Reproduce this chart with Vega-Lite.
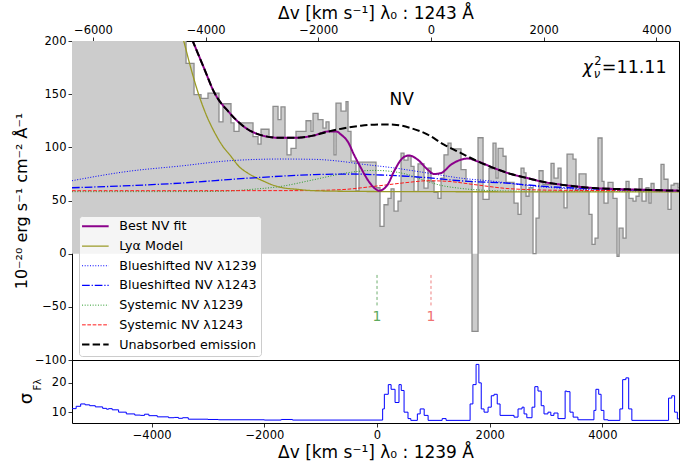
{
  "$schema": "https://vega.github.io/schema/vega-lite/v6.json",
  "padding": {"left": 12, "top": 3, "right": 2, "bottom": 0},
  "background": "white",
  "config": {
    "font": "DejaVu Sans",
    "view": {"stroke": "black", "strokeWidth": 1},
    "axis": {
      "grid": false, "domain": false, "tickColor": "black", "tickSize": 4, "tickWidth": 0.8,
      "labelColor": "black", "labelFontSize": 11.5, "labelPadding": 2, "labelFlush": false, "labelOverlap": false,
      "titleColor": "black", "titleFontWeight": "normal", "titleFontSize": 16,
      "labelFont": "DejaVu Sans", "titleFont": "DejaVu Sans"
    }
  },
  "datasets": {
    "flux": [
      {"v": -5414, "y": 400}, {"v": -3390, "y": 179}, {"v": -3248, "y": 149.5}, {"v": -3124, "y": 146},
      {"v": -3000, "y": 151}, {"v": -2805, "y": 124}, {"v": -2734, "y": 141}, {"v": -2592, "y": 123},
      {"v": -2538, "y": 115}, {"v": -2450, "y": 123}, {"v": -2201, "y": 110}, {"v": -2112, "y": 103},
      {"v": -2059, "y": 117}, {"v": -1917, "y": 110}, {"v": -1846, "y": 138.5}, {"v": -1757, "y": 126},
      {"v": -1704, "y": 138}, {"v": -1633, "y": 109}, {"v": -1598, "y": 93}, {"v": -1527, "y": 99},
      {"v": -1438, "y": 115}, {"v": -1260, "y": 125}, {"v": -1172, "y": 115}, {"v": -1136, "y": 132},
      {"v": -1047, "y": 126}, {"v": -959, "y": 118}, {"v": -905, "y": 124}, {"v": -852, "y": 115},
      {"v": -763, "y": 93}, {"v": -728, "y": 141.6}, {"v": -639, "y": 134}, {"v": -550, "y": 143},
      {"v": -515, "y": 115}, {"v": -462, "y": 87}, {"v": -373, "y": 59}, {"v": -320, "y": 86},
      {"v": -18, "y": 62}, {"v": 53, "y": 25.7}, {"v": 124, "y": 46}, {"v": 195, "y": 52},
      {"v": 249, "y": 61}, {"v": 302, "y": 40}, {"v": 373, "y": 49.5}, {"v": 426, "y": 94.6},
      {"v": 479, "y": 88}, {"v": 550, "y": 91.6}, {"v": 604, "y": 82}, {"v": 657, "y": 58.6},
      {"v": 728, "y": 84.5}, {"v": 834, "y": 61.7}, {"v": 905, "y": 80.5}, {"v": 959, "y": 68},
      {"v": 1012, "y": 57.6}, {"v": 1083, "y": 52}, {"v": 1136, "y": 71}, {"v": 1189, "y": 93},
      {"v": 1260, "y": 104}, {"v": 1314, "y": 98.5}, {"v": 1491, "y": 79}, {"v": 1580, "y": 68},
      {"v": 1686, "y": -73}, {"v": 1793, "y": 109}, {"v": 1882, "y": 51}, {"v": 1988, "y": 80},
      {"v": 2059, "y": 104}, {"v": 2112, "y": 71}, {"v": 2148, "y": 99}, {"v": 2237, "y": 91.6},
      {"v": 2290, "y": 67}, {"v": 2432, "y": 47.6}, {"v": 2503, "y": 37}, {"v": 2556, "y": 80.5},
      {"v": 2609, "y": 76}, {"v": 2645, "y": 54}, {"v": 2698, "y": 62}, {"v": 2769, "y": 0},
      {"v": 2822, "y": 33.5}, {"v": 2876, "y": 78}, {"v": 2947, "y": 65}, {"v": 3089, "y": 85},
      {"v": 3142, "y": 71}, {"v": 3213, "y": 80.5}, {"v": 3266, "y": 58.6}, {"v": 3319, "y": 43},
      {"v": 3373, "y": 93.7}, {"v": 3479, "y": 89}, {"v": 3532, "y": 60}, {"v": 3586, "y": 75},
      {"v": 3710, "y": 58.6}, {"v": 3763, "y": 37}, {"v": 3816, "y": 8.7}, {"v": 3870, "y": 14.7},
      {"v": 3923, "y": 108.8}, {"v": 3994, "y": 68}, {"v": 4029, "y": 47.6}, {"v": 4100, "y": 67},
      {"v": 4189, "y": 52}, {"v": 4260, "y": -2.5}, {"v": 4296, "y": 24}, {"v": 4367, "y": 14.7},
      {"v": 4420, "y": 68}, {"v": 4473, "y": 52}, {"v": 4544, "y": 49.5}, {"v": 4597, "y": 54},
      {"v": 4651, "y": 70.6}, {"v": 4704, "y": 49.5}, {"v": 4775, "y": 62}, {"v": 4828, "y": 47.6},
      {"v": 4864, "y": 66}, {"v": 4917, "y": 58.6}, {"v": 5041, "y": 84}, {"v": 5094, "y": 70},
      {"v": 5165, "y": 41.6}, {"v": 5219, "y": 64.5}, {"v": 5271, "y": 66}, {"v": 5343, "y": 62},
      {"v": 5420, "y": 62}
    ],
    "curvesThick": [
      {"series": "Best NV fit", "v": -3355, "y": 210.6}, {"series": "Best NV fit", "v": -3271, "y": 200},
      {"series": "Best NV fit", "v": -3071, "y": 174.5}, {"series": "Best NV fit", "v": -2893, "y": 152},
      {"series": "Best NV fit", "v": -2627, "y": 133}, {"series": "Best NV fit", "v": -2325, "y": 118},
      {"series": "Best NV fit", "v": -2024, "y": 111}, {"series": "Best NV fit", "v": -1740, "y": 109},
      {"series": "Best NV fit", "v": -1438, "y": 109}, {"series": "Best NV fit", "v": -1136, "y": 111},
      {"series": "Best NV fit", "v": -852, "y": 115}, {"series": "Best NV fit", "v": -728, "y": 115},
      {"series": "Best NV fit", "v": -639, "y": 112}, {"series": "Best NV fit", "v": -515, "y": 105},
      {"series": "Best NV fit", "v": -408, "y": 93}, {"series": "Best NV fit", "v": -284, "y": 80.5},
      {"series": "Best NV fit", "v": -160, "y": 69}, {"series": "Best NV fit", "v": -53, "y": 62},
      {"series": "Best NV fit", "v": 36, "y": 59.2}, {"series": "Best NV fit", "v": 190, "y": 65},
      {"series": "Best NV fit", "v": 302, "y": 77.4}, {"series": "Best NV fit", "v": 456, "y": 90},
      {"series": "Best NV fit", "v": 568, "y": 92.4}, {"series": "Best NV fit", "v": 722, "y": 88.4},
      {"series": "Best NV fit", "v": 900, "y": 79}, {"series": "Best NV fit", "v": 1012, "y": 74.9},
      {"series": "Best NV fit", "v": 1136, "y": 75.8}, {"series": "Best NV fit", "v": 1314, "y": 83.7},
      {"series": "Best NV fit", "v": 1491, "y": 88.4}, {"series": "Best NV fit", "v": 1610, "y": 89.5},
      {"series": "Best NV fit", "v": 1787, "y": 86.8}, {"series": "Best NV fit", "v": 2077, "y": 80.5},
      {"series": "Best NV fit", "v": 2379, "y": 74.9}, {"series": "Best NV fit", "v": 2675, "y": 71},
      {"series": "Best NV fit", "v": 2964, "y": 67.3}, {"series": "Best NV fit", "v": 3266, "y": 64.9},
      {"series": "Best NV fit", "v": 3852, "y": 61.7}, {"series": "Best NV fit", "v": 4450, "y": 60.5},
      {"series": "Best NV fit", "v": 5396, "y": 59.2},
      {"series": "Unabsorbed emission", "v": -3355, "y": 210.6}, {"series": "Unabsorbed emission", "v": -3271, "y": 200},
      {"series": "Unabsorbed emission", "v": -3071, "y": 174.5}, {"series": "Unabsorbed emission", "v": -2893, "y": 152},
      {"series": "Unabsorbed emission", "v": -2627, "y": 133}, {"series": "Unabsorbed emission", "v": -2325, "y": 118},
      {"series": "Unabsorbed emission", "v": -2024, "y": 111}, {"series": "Unabsorbed emission", "v": -1740, "y": 109},
      {"series": "Unabsorbed emission", "v": -1438, "y": 109}, {"series": "Unabsorbed emission", "v": -1136, "y": 111},
      {"series": "Unabsorbed emission", "v": -852, "y": 115}, {"series": "Unabsorbed emission", "v": -586, "y": 118},
      {"series": "Unabsorbed emission", "v": -284, "y": 120.3}, {"series": "Unabsorbed emission", "v": 71, "y": 121.5},
      {"series": "Unabsorbed emission", "v": 302, "y": 121.3}, {"series": "Unabsorbed emission", "v": 604, "y": 118},
      {"series": "Unabsorbed emission", "v": 900, "y": 112}, {"series": "Unabsorbed emission", "v": 1189, "y": 102.5},
      {"series": "Unabsorbed emission", "v": 1491, "y": 94.6}, {"series": "Unabsorbed emission", "v": 1787, "y": 86.8},
      {"series": "Unabsorbed emission", "v": 2077, "y": 80.5}, {"series": "Unabsorbed emission", "v": 2379, "y": 74.9},
      {"series": "Unabsorbed emission", "v": 2675, "y": 71}, {"series": "Unabsorbed emission", "v": 2964, "y": 67.3},
      {"series": "Unabsorbed emission", "v": 3266, "y": 64.9}, {"series": "Unabsorbed emission", "v": 3852, "y": 61.7},
      {"series": "Unabsorbed emission", "v": 4450, "y": 60.5}, {"series": "Unabsorbed emission", "v": 5396, "y": 59.2}
    ],
    "curvesMedium": [
      {"series": "Lyα Model", "v": -3515, "y": 216}, {"series": "Lyα Model", "v": -3431, "y": 200},
      {"series": "Lyα Model", "v": -3302, "y": 174}, {"series": "Lyα Model", "v": -3183, "y": 152.6},
      {"series": "Lyα Model", "v": -3035, "y": 131}, {"series": "Lyα Model", "v": -2893, "y": 115},
      {"series": "Lyα Model", "v": -2751, "y": 102}, {"series": "Lyα Model", "v": -2592, "y": 91.5},
      {"series": "Lyα Model", "v": -2450, "y": 82}, {"series": "Lyα Model", "v": -2295, "y": 75.8},
      {"series": "Lyα Model", "v": -2148, "y": 71.5}, {"series": "Lyα Model", "v": -2006, "y": 68},
      {"series": "Lyα Model", "v": -1864, "y": 64.8}, {"series": "Lyα Model", "v": -1704, "y": 62.3},
      {"series": "Lyα Model", "v": -1420, "y": 60.5}, {"series": "Lyα Model", "v": -1118, "y": 59.2},
      {"series": "Lyα Model", "v": -462, "y": 58.6}, {"series": "Lyα Model", "v": 781, "y": 58.3},
      {"series": "Lyα Model", "v": 5396, "y": 58.1},
      {"series": "Blueshifted NV λ1243", "v": -5414, "y": 62}, {"series": "Blueshifted NV λ1243", "v": -3479, "y": 66.4},
      {"series": "Blueshifted NV λ1243", "v": -2290, "y": 71}, {"series": "Blueshifted NV λ1243", "v": -1118, "y": 74.3},
      {"series": "Blueshifted NV λ1243", "v": -462, "y": 74.9}, {"series": "Blueshifted NV λ1243", "v": 71, "y": 74},
      {"series": "Blueshifted NV λ1243", "v": 834, "y": 71.7}, {"series": "Blueshifted NV λ1243", "v": 1491, "y": 68.5},
      {"series": "Blueshifted NV λ1243", "v": 2379, "y": 66}, {"series": "Blueshifted NV λ1243", "v": 2964, "y": 63.3},
      {"series": "Blueshifted NV λ1243", "v": 3852, "y": 61}, {"series": "Blueshifted NV λ1243", "v": 5396, "y": 59.2}
    ],
    "curvesThin": [
      {"series": "Blueshifted NV λ1239", "v": -5414, "y": 68.6}, {"series": "Blueshifted NV λ1239", "v": -4420, "y": 77.4},
      {"series": "Blueshifted NV λ1239", "v": -3479, "y": 82.5}, {"series": "Blueshifted NV λ1239", "v": -2592, "y": 87.5},
      {"series": "Blueshifted NV λ1239", "v": -1704, "y": 89}, {"series": "Blueshifted NV λ1239", "v": -1118, "y": 88.7},
      {"series": "Blueshifted NV λ1239", "v": -639, "y": 86.8}, {"series": "Blueshifted NV λ1239", "v": -284, "y": 84.3},
      {"series": "Blueshifted NV λ1239", "v": 249, "y": 81}, {"series": "Blueshifted NV λ1239", "v": 905, "y": 75.8},
      {"series": "Blueshifted NV λ1239", "v": 1491, "y": 71}, {"series": "Blueshifted NV λ1239", "v": 2077, "y": 68},
      {"series": "Blueshifted NV λ1239", "v": 2680, "y": 64}, {"series": "Blueshifted NV λ1239", "v": 3266, "y": 61.5},
      {"series": "Blueshifted NV λ1239", "v": 4331, "y": 59.5}, {"series": "Blueshifted NV λ1239", "v": 5396, "y": 58.8},
      {"series": "Systemic NV λ1239", "v": -5414, "y": 58.3}, {"series": "Systemic NV λ1239", "v": -3124, "y": 58.4},
      {"series": "Systemic NV λ1239", "v": -2592, "y": 59}, {"series": "Systemic NV λ1239", "v": -2290, "y": 60.2},
      {"series": "Systemic NV λ1239", "v": -1704, "y": 63.3}, {"series": "Systemic NV λ1239", "v": -1118, "y": 69.6},
      {"series": "Systemic NV λ1239", "v": -639, "y": 75}, {"series": "Systemic NV λ1239", "v": -337, "y": 77.4},
      {"series": "Systemic NV λ1239", "v": -53, "y": 78.3}, {"series": "Systemic NV λ1239", "v": 249, "y": 77.4},
      {"series": "Systemic NV λ1239", "v": 550, "y": 74.3}, {"series": "Systemic NV λ1239", "v": 834, "y": 69},
      {"series": "Systemic NV λ1239", "v": 1136, "y": 64.2}, {"series": "Systemic NV λ1239", "v": 1438, "y": 61.7},
      {"series": "Systemic NV λ1239", "v": 1722, "y": 60.2}, {"series": "Systemic NV λ1239", "v": 2379, "y": 58.9},
      {"series": "Systemic NV λ1239", "v": 5396, "y": 58.3},
      {"series": "Systemic NV λ1243", "v": -5414, "y": 59.2}, {"series": "Systemic NV λ1243", "v": -1349, "y": 59.3},
      {"series": "Systemic NV λ1243", "v": -639, "y": 60.2}, {"series": "Systemic NV λ1243", "v": -53, "y": 63.3},
      {"series": "Systemic NV λ1243", "v": 550, "y": 67}, {"series": "Systemic NV λ1243", "v": 905, "y": 68.6},
      {"series": "Systemic NV λ1243", "v": 1260, "y": 68}, {"series": "Systemic NV λ1243", "v": 1722, "y": 65},
      {"series": "Systemic NV λ1243", "v": 2379, "y": 61}, {"series": "Systemic NV λ1243", "v": 3266, "y": 59.6},
      {"series": "Systemic NV λ1243", "v": 5396, "y": 59.2}
    ],
    "sigma": [
      {"v": -5414, "s": 11.2}, {"v": -5340, "s": 12.0}, {"v": -5260, "s": 12.8}, {"v": -5180, "s": 12.5},
      {"v": -5100, "s": 12.2}, {"v": -5000, "s": 11.8}, {"v": -4870, "s": 11.3}, {"v": -4800, "s": 11.0},
      {"v": -4765, "s": 11.2}, {"v": -4700, "s": 10.8}, {"v": -4587, "s": 10.0}, {"v": -4450, "s": 9.4},
      {"v": -4300, "s": 9.0}, {"v": -4200, "s": 8.9}, {"v": -4126, "s": 9.3}, {"v": -4050, "s": 8.8},
      {"v": -3900, "s": 8.4}, {"v": -3700, "s": 8.1}, {"v": -3600, "s": 8.2}, {"v": -3524, "s": 7.9},
      {"v": -3450, "s": 8.1}, {"v": -3350, "s": 7.6}, {"v": -3000, "s": 7.5}, {"v": -2815, "s": 7.4},
      {"v": -2000, "s": 7.3}, {"v": -1700, "s": 7.5}, {"v": -1500, "s": 7.3}, {"v": 100, "s": 11.1},
      {"v": 130, "s": 16.1}, {"v": 200, "s": 19.4}, {"v": 250, "s": 17.8}, {"v": 320, "s": 13.3},
      {"v": 390, "s": 19.4}, {"v": 430, "s": 17.4}, {"v": 480, "s": 10.0}, {"v": 550, "s": 7.8},
      {"v": 600, "s": 7.2}, {"v": 716, "s": 9.4}, {"v": 766, "s": 11.1}, {"v": 837, "s": 8.9},
      {"v": 907, "s": 7.2}, {"v": 1156, "s": 7.8}, {"v": 1226, "s": 7.2}, {"v": 1652, "s": 12.8},
      {"v": 1702, "s": 19.4}, {"v": 1758, "s": 26.3}, {"v": 1808, "s": 20.0}, {"v": 1850, "s": 11.1},
      {"v": 1900, "s": 10.0}, {"v": 1971, "s": 11.7}, {"v": 2028, "s": 15.6}, {"v": 2077, "s": 16.1},
      {"v": 2134, "s": 12.8}, {"v": 2184, "s": 8.9}, {"v": 2432, "s": 8.3}, {"v": 2503, "s": 11.1},
      {"v": 2574, "s": 11.7}, {"v": 2610, "s": 9.4}, {"v": 2659, "s": 8.1}, {"v": 2751, "s": 11.7},
      {"v": 2801, "s": 18.7}, {"v": 2857, "s": 17.2}, {"v": 2914, "s": 12.2}, {"v": 2964, "s": 9.4},
      {"v": 3034, "s": 10.0}, {"v": 3085, "s": 8.9}, {"v": 3140, "s": 9.7}, {"v": 3212, "s": 7.8},
      {"v": 3339, "s": 17.2}, {"v": 3368, "s": 17.0}, {"v": 3425, "s": 10.0}, {"v": 3481, "s": 8.3},
      {"v": 3566, "s": 7.4}, {"v": 3850, "s": 10.6}, {"v": 3885, "s": 17.8}, {"v": 3935, "s": 16.1},
      {"v": 3977, "s": 10.6}, {"v": 4027, "s": 7.4}, {"v": 4098, "s": 7.2}, {"v": 4311, "s": 11.1},
      {"v": 4360, "s": 21.1}, {"v": 4417, "s": 21.7}, {"v": 4467, "s": 11.1}, {"v": 4523, "s": 7.2},
      {"v": 5175, "s": 14.8}, {"v": 5232, "s": 15.6}, {"v": 5282, "s": 10.0}, {"v": 5331, "s": 7.7},
      {"v": 5420, "s": 7.7}
    ]
  },
  "spacing": 0,
  "bounds": "flush",
  "resolve": {"scale": {"x": "independent", "y": "independent"}},
  "vconcat": [
    {
      "width": 607,
      "height": 319,
      "resolve": {"scale": {"x": "independent"}},
      "layer": [
        {
          "encoding": {
            "x": {"field": "v", "type": "quantitative", "scale": {"domain": [-5414, 5360], "nice": false, "zero": false}, "axis": null},
            "y": {
              "field": "y", "type": "quantitative",
              "scale": {"domain": [-100, 200], "nice": false, "zero": false},
              "axis": {"values": [-100, -50, 0, 50, 100, 150, 200], "format": "d", "title": "10⁻²⁰ erg s⁻¹ cm⁻² Å⁻¹", "titlePadding": 5}
            }
          },
          "layer": [
            {
              "data": {"name": "flux"},
              "mark": {"type": "area", "interpolate": "step-after", "color": "#cccccc", "clip": true},
              "encoding": {"y2": {"datum": 0}}
            },
            {
              "data": {"name": "flux"},
              "mark": {"type": "line", "interpolate": "step-after", "color": "#8c8c8c", "strokeWidth": 1.3, "clip": true}
            },
            {
              "encoding": {
                "color": {
                  "field": "series", "type": "nominal",
                  "scale": {
                    "domain": ["Best NV fit", "Lyα Model", "Blueshifted NV λ1239", "Blueshifted NV λ1243", "Systemic NV λ1239", "Systemic NV λ1243", "Unabsorbed emission"],
                    "range": ["#8b008b", "#9a9a26", "#0000ff", "#0000ff", "#2a9a2a", "#ff1a1a", "#000000"]
                  },
                  "legend": {
                    "orient": "none", "legendX": 7, "legendY": 175, "title": null,
                    "fillColor": "rgba(255,255,255,0.8)", "strokeColor": "#cccccc", "cornerRadius": 3, "padding": 4,
                    "symbolType": "M-2,0H2", "symbolSize": 177, "symbolOffset": 6, "labelOffset": 17.5, "rowPadding": 5.7,
                    "labelFontSize": 12.7, "labelColor": "black", "labelLimit": 300,
                    "encode": {"symbols": {"update": {"strokeWidth": {"signal": "datum.value == 'Best NV fit' || datum.value == 'Unabsorbed emission' ? 2 : (datum.value == 'Lyα Model' || datum.value == 'Blueshifted NV λ1243' ? 1.3 : 1)"}}}}
                  }
                },
                "strokeDash": {
                  "field": "series", "type": "nominal",
                  "scale": {
                    "domain": ["Best NV fit", "Lyα Model", "Blueshifted NV λ1239", "Blueshifted NV λ1243", "Systemic NV λ1239", "Systemic NV λ1243", "Unabsorbed emission"],
                    "range": [[1, 0], [1, 0], [1, 1.65], [7.7, 1.9, 1.2, 1.9], [1, 1.65], [3.7, 1.6], [7.4, 3.2]]
                  },
                  "legend": {
                    "orient": "none", "legendX": 7, "legendY": 175, "title": null,
                    "fillColor": "rgba(255,255,255,0.8)", "strokeColor": "#cccccc", "cornerRadius": 3, "padding": 4,
                    "symbolType": "M-2,0H2", "symbolSize": 177, "symbolOffset": 6, "labelOffset": 17.5, "rowPadding": 5.7,
                    "labelFontSize": 12.7, "labelColor": "black", "labelLimit": 300,
                    "encode": {"symbols": {"update": {"strokeWidth": {"signal": "datum.value == 'Best NV fit' || datum.value == 'Unabsorbed emission' ? 2 : (datum.value == 'Lyα Model' || datum.value == 'Blueshifted NV λ1243' ? 1.3 : 1)"}}}}
                  }
                }
              },
              "layer": [
                {
                  "data": {"name": "curvesThin"},
                  "mark": {"type": "line", "interpolate": "monotone", "strokeWidth": 1, "clip": true}
                },
                {
                  "data": {"name": "curvesMedium"},
                  "mark": {"type": "line", "interpolate": "monotone", "strokeWidth": 1.3, "clip": true}
                },
                {
                  "data": {"name": "curvesThick"},
                  "mark": {"type": "line", "interpolate": "monotone", "strokeWidth": 2, "clip": true}
                }
              ]
            },
            {
              "data": {"values": [{"v": 0, "y": -20, "y2": -50}]},
              "mark": {"type": "rule", "color": "#6fae6f", "strokeWidth": 1, "strokeDash": [3, 2.5]},
              "encoding": {"y2": {"field": "y2"}}
            },
            {
              "data": {"values": [{"v": 958, "y": -20, "y2": -50}]},
              "mark": {"type": "rule", "color": "#ee8080", "strokeWidth": 1, "strokeDash": [3, 2.5]},
              "encoding": {"y2": {"field": "y2"}}
            },
            {
              "data": {"values": [{"v": 0, "y": -60, "label": "1"}]},
              "mark": {"type": "text", "color": "#5daa5d", "fontSize": 14, "align": "center", "baseline": "middle"},
              "encoding": {"text": {"field": "label"}}
            },
            {
              "data": {"values": [{"v": 958, "y": -60, "label": "1"}]},
              "mark": {"type": "text", "color": "#f07272", "fontSize": 14, "align": "center", "baseline": "middle"},
              "encoding": {"text": {"field": "label"}}
            },
            {
              "data": {"values": [{"v": 438, "y": 144.8, "label": "NV"}]},
              "mark": {"type": "text", "color": "black", "fontSize": 17, "align": "center", "baseline": "middle"},
              "encoding": {"text": {"field": "label"}}
            },
            {
              "data": {"values": [{"v": 3653, "y": 169.8, "label": "χ"}]},
              "mark": {"type": "text", "color": "black", "fontSize": 17, "fontStyle": "italic", "align": "left", "baseline": "alphabetic"},
              "encoding": {"text": {"field": "label"}}
            },
            {
              "data": {"values": [{"v": 3653, "y": 169.8, "label": "2"}]},
              "mark": {"type": "text", "color": "black", "fontSize": 11.5, "align": "left", "baseline": "alphabetic", "dx": 11.5, "dy": -8.5},
              "encoding": {"text": {"field": "label"}}
            },
            {
              "data": {"values": [{"v": 3653, "y": 169.8, "label": "ν"}]},
              "mark": {"type": "text", "color": "black", "fontSize": 11.5, "fontStyle": "italic", "align": "left", "baseline": "alphabetic", "dx": 11, "dy": 4.5},
              "encoding": {"text": {"field": "label"}}
            },
            {
              "data": {"values": [{"v": 3653, "y": 169.8, "label": "=11.11"}]},
              "mark": {"type": "text", "color": "black", "fontSize": 17.5, "align": "left", "baseline": "alphabetic", "dx": 19},
              "encoding": {"text": {"field": "label"}}
            }
          ]
        },
        {
          "data": {"values": [{"w": -6372}, {"w": 4402}]},
          "mark": {"type": "rule", "opacity": 0},
          "encoding": {
            "x": {
              "field": "w", "type": "quantitative",
              "scale": {"domain": [-6372, 4402], "nice": false, "zero": false},
              "axis": {"orient": "top", "values": [-6000, -4000, -2000, 0, 2000, 4000], "format": "d", "title": "Δv [km s⁻¹] λ₀ : 1243 Å", "titleFontSize": 17, "titlePadding": 2}
            }
          }
        }
      ]
    },
    {
      "width": 607,
      "height": 63,
      "data": {"name": "sigma"},
      "encoding": {
        "x": {
          "field": "v", "type": "quantitative",
          "scale": {"domain": [-5414, 5360], "nice": false, "zero": false},
          "axis": {"values": [-4000, -2000, 0, 2000, 4000], "format": "d", "title": "Δv [km s⁻¹] λ₀ : 1239 Å", "titleFontSize": 17, "titlePadding": 4}
        },
        "y": {
          "field": "s", "type": "quantitative",
          "scale": {"domain": [6.3, 27.8], "nice": false, "zero": false},
          "axis": {"values": [10, 20], "format": "d", "title": "σ", "titleFontSize": 18, "titleX": -46, "titleY": 38, "titleBaseline": "middle"}
        }
      },
      "layer": [
        {
          "mark": {"type": "line", "interpolate": "step-after", "color": "#0000ff", "strokeWidth": 1, "clip": true}
        },
        {
          "data": {"values": [{"v": -5414, "s": 19.4, "label": "Fλ"}]},
          "mark": {"type": "text", "angle": 270, "fontSize": 10, "dy": -34, "align": "center", "baseline": "middle", "color": "black"},
          "encoding": {"text": {"field": "label"}}
        }
      ]
    }
  ]
}
